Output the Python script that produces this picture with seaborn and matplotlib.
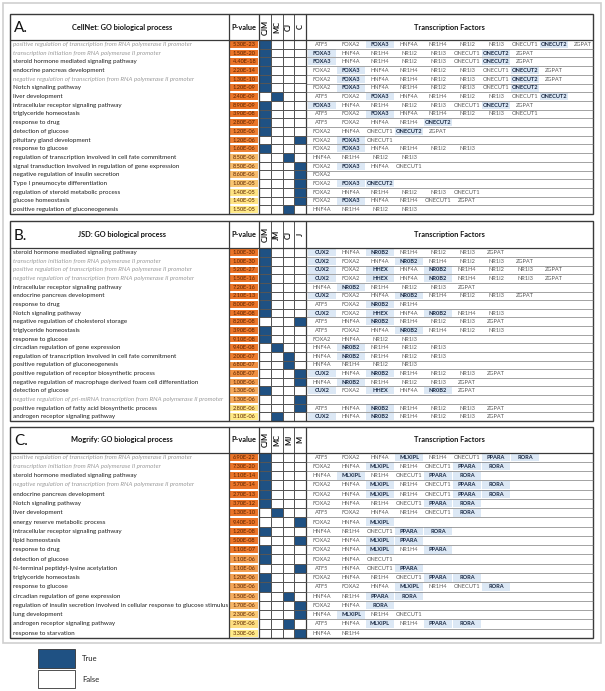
import numpy as np
import pandas as pd
import matplotlib
matplotlib.use("Agg")
import matplotlib.pyplot as plt
from matplotlib.colors import ListedColormap, LinearSegmentedColormap
from matplotlib.patches import Rectangle
import seaborn as sns

# ---------------- data ----------------
A_terms = [
    "positive regulation of transcription from RNA polymerase II promoter",
    "transcription initiation from RNA polymerase II promoter",
    "steroid hormone mediated signaling pathway",
    "endocrine pancreas development",
    "negative regulation of transcription from RNA polymerase II promoter",
    "Notch signaling pathway",
    "liver development",
    "intracellular receptor signaling pathway",
    "triglyceride homeostasis",
    "response to drug",
    "detection of glucose",
    "pituitary gland development",
    "response to glucose",
    "regulation of transcription involved in cell fate commitment",
    "signal transduction involved in regulation of gene expression",
    "negative regulation of insulin secretion",
    "Type I pneumocyte differentiation",
    "regulation of steroid metabolic process",
    "glucose homeostasis",
    "positive regulation of gluconeogenesis",
]
A_pvals = [5.3e-23, 1.5e-20, 4.4e-18, 2.2e-14, 1.3e-10, 1.2e-09, 2.4e-09, 8.9e-09,
           3.9e-08, 2.8e-07, 1.2e-06, 1.2e-06, 1.6e-06, 8.5e-06, 8.5e-06, 8.6e-06,
           1.0e-05, 1.4e-05, 1.4e-05, 1.5e-05]
A_cols = ["CJM", "MC", "CJ", "C"]
A_group = ["CJM", "CJM", "CJM", "CJM", "CJM", "CJM", "MC", "CJM", "CJM", "CJM",
           "CJM", "C", "CJM", "CJ", "C", "C", "C", "C", "C", "CJ"]
A_tfs = [
    "ATF5 FOXA2 FOXA3 HNF4A NR1H4 NR1I2 NR1I3 ONECUT1 ONECUT2 ZGPAT",
    "FOXA3 HNF4A NR1H4 NR1I2 NR1I3 ONECUT1 ONECUT2 ZGPAT",
    "FOXA3 HNF4A NR1H4 NR1I2 NR1I3 ONECUT1 ONECUT2 ZGPAT",
    "FOXA2 FOXA3 HNF4A NR1H4 NR1I2 NR1I3 ONECUT1 ONECUT2 ZGPAT",
    "FOXA2 FOXA3 HNF4A NR1H4 NR1I2 NR1I3 ONECUT1 ONECUT2 ZGPAT",
    "FOXA2 FOXA3 HNF4A NR1H4 NR1I2 NR1I3 ONECUT1 ONECUT2",
    "ATF5 FOXA2 FOXA3 HNF4A NR1H4 NR1I2 NR1I3 ONECUT1 ONECUT2",
    "FOXA3 HNF4A NR1H4 NR1I2 NR1I3 ONECUT1 ONECUT2 ZGPAT",
    "ATF5 FOXA2 FOXA3 HNF4A NR1H4 NR1I2 NR1I3 ONECUT1",
    "ATF5 FOXA2 HNF4A NR1H4 ONECUT2",
    "FOXA2 HNF4A ONECUT1 ONECUT2 ZGPAT",
    "FOXA2 FOXA3 ONECUT1",
    "FOXA2 FOXA3 HNF4A NR1H4 NR1I2 NR1I3",
    "HNF4A NR1H4 NR1I2 NR1I3",
    "FOXA2 FOXA3 HNF4A ONECUT1",
    "FOXA2",
    "FOXA2 FOXA3 ONECUT2",
    "FOXA2 HNF4A NR1H4 NR1I2 NR1I3 ONECUT1",
    "FOXA2 FOXA3 HNF4A NR1H4 ONECUT1 ZGPAT",
    "HNF4A NR1H4 NR1I2 NR1I3",
]
A_highlight = ["FOXA3", "ONECUT2"]

B_terms = [
    "steroid hormone mediated signaling pathway",
    "transcription initiation from RNA polymerase II promoter",
    "positive regulation of transcription from RNA polymerase II promoter",
    "negative regulation of transcription from RNA polymerase II promoter",
    "intracellular receptor signaling pathway",
    "endocrine pancreas development",
    "response to drug",
    "Notch signaling pathway",
    "negative regulation of cholesterol storage",
    "triglyceride homeostasis",
    "response to glucose",
    "circadian regulation of gene expression",
    "regulation of transcription involved in cell fate commitment",
    "positive regulation of gluconeogenesis",
    "positive regulation of receptor biosynthetic process",
    "negative regulation of macrophage derived foam cell differentiation",
    "detection of glucose",
    "negative regulation of pri-miRNA transcription from RNA polymerase II promoter",
    "positive regulation of fatty acid biosynthetic process",
    "androgen receptor signaling pathway",
]
B_pvals = [1.0e-30, 1.0e-30, 5.2e-27, 1.5e-16, 7.2e-16, 2.1e-13, 8.0e-09, 1.4e-08,
           8.2e-08, 3.9e-08, 9.1e-08, 9.4e-08, 2.0e-07, 6.8e-07, 6.8e-07, 1.0e-06,
           1.3e-06, 1.3e-06, 2.8e-06, 3.1e-06]
B_cols = ["CJM", "JM", "CJ", "J"]
B_group = ["CJM", "CJM", "CJM", "CJM", "CJM", "CJM", "CJM", "CJM", "J", "CJM",
           "CJM", "JM", "CJ", "CJ", "J", "J", "CJM", "J", "J", "JM"]
B_tfs = [
    "CUX2 HNF4A NR0B2 NR1H4 NR1I2 NR1I3 ZGPAT",
    "CUX2 FOXA2 HNF4A NR0B2 NR1H4 NR1I2 NR1I3 ZGPAT",
    "CUX2 FOXA2 HHEX HNF4A NR0B2 NR1H4 NR1I2 NR1I3 ZGPAT",
    "CUX2 FOXA2 HHEX HNF4A NR0B2 NR1H4 NR1I2 NR1I3 ZGPAT",
    "HNF4A NR0B2 NR1H4 NR1I2 NR1I3 ZGPAT",
    "CUX2 FOXA2 HNF4A NR0B2 NR1H4 NR1I2 NR1I3 ZGPAT",
    "ATF5 FOXA2 NR0B2 NR1H4",
    "CUX2 FOXA2 HHEX HNF4A NR0B2 NR1H4 NR1I3",
    "ATF5 HNF4A NR0B2 NR1H4 NR1I2 NR1I3 ZGPAT",
    "ATF5 FOXA2 HNF4A NR0B2 NR1H4 NR1I2 NR1I3",
    "FOXA2 HNF4A NR1I2 NR1I3",
    "HNF4A NR0B2 NR1H4 NR1I2 NR1I3",
    "HNF4A NR0B2 NR1H4 NR1I2 NR1I3",
    "HNF4A NR1H4 NR1I2 NR1I3",
    "CUX2 HNF4A NR0B2 NR1H4 NR1I2 NR1I3 ZGPAT",
    "HNF4A NR0B2 NR1H4 NR1I2 NR1I3 ZGPAT",
    "CUX2 FOXA2 HHEX HNF4A NR0B2 ZGPAT",
    "",
    "ATF5 HNF4A NR0B2 NR1H4 NR1I2 NR1I3 ZGPAT",
    "CUX2 HNF4A NR0B2 NR1H4 NR1I2 NR1I3 ZGPAT",
]
B_highlight = ["CUX2", "NR0B2", "HHEX"]

C_terms = [
    "positive regulation of transcription from RNA polymerase II promoter",
    "transcription initiation from RNA polymerase II promoter",
    "steroid hormone mediated signaling pathway",
    "negative regulation of transcription from RNA polymerase II promoter",
    "endocrine pancreas development",
    "Notch signaling pathway",
    "liver development",
    "energy reserve metabolic process",
    "intracellular receptor signaling pathway",
    "lipid homeostasis",
    "response to drug",
    "detection of glucose",
    "N-terminal peptidyl-lysine acetylation",
    "triglyceride homeostasis",
    "response to glucose",
    "circadian regulation of gene expression",
    "regulation of insulin secretion involved in cellular response to glucose stimulus",
    "lung development",
    "androgen receptor signaling pathway",
    "response to starvation",
]
C_pvals = [6.9e-22, 7.3e-20, 1.1e-14, 5.7e-14, 2.7e-13, 3.7e-12, 1.3e-10, 9.4e-10,
           1.2e-08, 5.0e-08, 1.1e-07, 1.1e-06, 1.1e-06, 1.2e-06, 1.3e-06, 1.5e-06,
           1.7e-06, 2.3e-06, 2.9e-06, 3.3e-06]
C_cols = ["CJM", "MC", "MJ", "M"]
C_group = ["CJM", "CJM", "CJM", "CJM", "CJM", "CJM", "MC", "M", "CJM", "M",
           "CJM", "CJM", "M", "CJM", "CJM", "MJ", "M", "M", "MJ", "M"]
C_tfs = [
    "ATF5 FOXA2 HNF4A MLXIPL NR1H4 ONECUT1 PPARA RORA",
    "FOXA2 HNF4A MLXIPL NR1H4 ONECUT1 PPARA RORA",
    "HNF4A MLXIPL NR1H4 ONECUT1 PPARA RORA",
    "FOXA2 HNF4A MLXIPL NR1H4 ONECUT1 PPARA RORA",
    "FOXA2 HNF4A MLXIPL NR1H4 ONECUT1 PPARA RORA",
    "FOXA2 HNF4A NR1H4 ONECUT1 PPARA RORA",
    "ATF5 FOXA2 HNF4A NR1H4 ONECUT1 RORA",
    "FOXA2 HNF4A MLXIPL",
    "HNF4A NR1H4 ONECUT1 PPARA RORA",
    "FOXA2 HNF4A MLXIPL PPARA",
    "FOXA2 HNF4A MLXIPL NR1H4 PPARA",
    "FOXA2 HNF4A ONECUT1",
    "ATF5 HNF4A ONECUT1 PPARA",
    "FOXA2 HNF4A NR1H4 ONECUT1 PPARA RORA",
    "ATF5 FOXA2 HNF4A MLXIPL NR1H4 ONECUT1 RORA",
    "HNF4A NR1H4 PPARA RORA",
    "FOXA2 HNF4A RORA",
    "HNF4A MLXIPL NR1H4 ONECUT1",
    "ATF5 HNF4A MLXIPL NR1H4 PPARA RORA",
    "HNF4A NR1H4",
]
C_highlight = ["MLXIPL", "PPARA", "RORA"]

# ---------------- style ----------------
BLUE = "#1F5183"
TF_BG = "#DCE8F5"
LINE = "#3a3a3a"
pcmap = LinearSegmentedColormap.from_list("pval", ["#EA7428", "#F6B366", "#FFEA88"])

sns.set_theme(style="white")
plt.rcParams["font.family"] = ["Lato", "DejaVu Sans"]

W, H = 605, 691
fig = plt.figure(figsize=(W / 100, H / 100), dpi=100)
fig.patch.set_facecolor("white")
base = fig.add_axes([0, 0, 1, 1])
base.set_xlim(0, W)
base.set_ylim(H, 0)
base.axis("off")
base.set_zorder(3)
base.patch.set_visible(False)


def px_axes(x, y, w, h):
    return fig.add_axes([x / W, 1 - (y + h) / H, w / W, h / H])


X_LEFT, X_GO, X_P, CELL_W, X_RIGHT = 10, 229, 259.3, 11.7, 593
X_GRID = X_P + 4 * CELL_W

sections = [
    ("A.", "CellNet: GO biological process", A_terms, A_pvals, A_cols, A_group, A_tfs, A_highlight, 14, 26, 8.7),
    ("B.", "JSD: GO biological process", B_terms, B_pvals, B_cols, B_group, B_tfs, B_highlight, 221, 27.4, 8.63),
    ("C.", "Mogrify: GO biological process", C_terms, C_pvals, C_cols, C_group, C_tfs, C_highlight, 427, 25.5, 9.27),
]

# outer light frame
base.add_patch(Rectangle((3, 3), 598, 640, fill=False, ec="#cfcfcf", lw=1.2))

for label, title, terms, pvals, cols, group, tfs, hl, top, head, rowh in sections:
    n = len(terms)
    body_top = top + head
    body_h = n * rowh
    bottom = body_top + body_h

    # p-value column
    axp = px_axes(X_GO, body_top, X_P - X_GO, body_h)
    pdf = pd.DataFrame({"P": pvals})
    ptxt = np.array([["%.2E" % v] for v in pvals])
    sns.heatmap(pdf, ax=axp, cmap=pcmap, vmin=min(pvals), vmax=max(pvals),
                annot=ptxt, fmt="", cbar=False, xticklabels=False, yticklabels=False,
                linewidths=0.3, linecolor="white",
                annot_kws={"size": 4.1, "color": "#5a2300"})
    axp.set_xlabel("")
    axp.set_ylabel("")

    # membership grid
    axg = px_axes(X_P, body_top, X_GRID - X_P, body_h)
    gdf = pd.DataFrame({c: [g == c for g in group] for c in cols}).astype(int)
    sns.heatmap(gdf, ax=axg, cmap=ListedColormap(["white", BLUE]), vmin=0, vmax=1,
                cbar=False, xticklabels=False, yticklabels=False,
                linewidths=0.5, linecolor="#555555")
    axg.set_xlabel("")
    axg.set_ylabel("")

    # frame and header lines
    base.add_patch(Rectangle((X_LEFT, top), X_RIGHT - X_LEFT, bottom - top,
                             fill=False, ec=LINE, lw=1.0))
    base.plot([X_LEFT, X_RIGHT], [body_top, body_top], color=LINE, lw=0.9)
    for xv in [X_GO, X_P, X_GRID]:
        base.plot([xv, xv], [top, bottom], color=LINE, lw=0.9)
    for k in range(1, 4):
        xv = X_P + k * CELL_W
        base.plot([xv, xv], [top, body_top], color=LINE, lw=0.6)

    # header text
    ymid = top + head / 2
    base.text(X_LEFT + 4, ymid + 1, label, fontsize=11, va="center", ha="left", color="#111111")
    base.text(122, ymid, title, fontsize=5.3, fontweight="bold", va="center", ha="center", color="#111111")
    base.text((X_GO + X_P) / 2, ymid, "P-value", fontsize=5.3, fontweight="bold", va="center", ha="center", color="#111111")
    for k, c in enumerate(cols):
        base.text(X_P + (k + 0.5) * CELL_W, ymid, c, fontsize=5.4, fontweight="bold",
                  rotation=90, va="center", ha="center", color="#111111")
    base.text((X_GRID + X_RIGHT) / 2, ymid, "Transcription Factors", fontsize=5.3,
              fontweight="bold", va="center", ha="center", color="#111111")

    # rows
    for i in range(n):
        y0 = body_top + i * rowh
        yc = y0 + rowh / 2
        grey = "RNA polymerase II" in terms[i]
        base.text(X_LEFT + 3, yc, terms[i], fontsize=4.5, va="center", ha="left",
                  color="#9a9a9a" if grey else "#1e1e1e",
                  style="italic" if grey else "normal")
        if i > 0:
            base.plot([X_GRID, X_RIGHT], [y0, y0], color="#6e6e6e", lw=0.45)
        for k, tf in enumerate(tfs[i].split()):
            cx = 322 + 29 * k
            if tf in hl:
                base.add_patch(Rectangle((cx - 14, y0 + 0.7), 28, rowh - 1.4,
                                         fc=TF_BG, ec="none", zorder=1))
                base.text(cx, yc, tf, fontsize=4.1, fontweight="bold", va="center",
                          ha="center", color="#1b2a44", zorder=2)
            else:
                base.text(cx, yc, tf, fontsize=4.1, va="center", ha="center",
                          color="#5a5a5a", zorder=2)

# legend
base.add_patch(Rectangle((38, 649), 37, 18.5, fc=BLUE, ec="#333333", lw=0.6))
base.text(82, 658.5, "True", fontsize=5.5, va="center", ha="left", color="#222222")
base.add_patch(Rectangle((38, 670), 37, 17.5, fc="white", ec="#333333", lw=0.6))
base.text(82, 679, "False", fontsize=5.5, va="center", ha="left", color="#222222")

fig.savefig("out.png", dpi=100, facecolor="white")
